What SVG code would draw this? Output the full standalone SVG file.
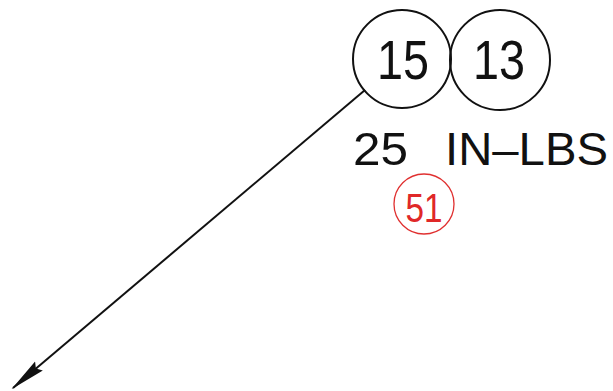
<svg xmlns="http://www.w3.org/2000/svg" width="613" height="391" viewBox="0 0 613 391">
<style>
.bal{fill:none;stroke:#111;stroke-width:2}
.t{font-family:"Liberation Sans",Arial,sans-serif;fill:#111}
</style>
<defs>
<marker id="ah" markerWidth="36" markerHeight="14" refX="34" refY="7" orient="auto" markerUnits="userSpaceOnUse">
<path d="M0,1 L36,7 L0,13 L4,7 Z" fill="#111"/>
</marker>
</defs>
<rect width="613" height="391" fill="#fff"/>
<g id="connectors">
<line x1="365" y1="90" x2="13" y2="388" stroke="#111" stroke-width="2" marker-end="url(#ah)"/>
</g>
<g id="balloon15">
<circle class="bal" cx="402" cy="59" r="49"/>
<text class="t" x="403" y="79" font-size="55" text-anchor="middle" textLength="52" lengthAdjust="spacingAndGlyphs">15</text>
</g>
<g id="balloon13">
<circle class="bal" cx="500" cy="60" r="50"/>
<text class="t" x="499" y="79" font-size="55" text-anchor="middle" textLength="52" lengthAdjust="spacingAndGlyphs">13</text>
</g>
<g id="torque">
<text class="t" x="353" y="165" font-size="47" textLength="55" lengthAdjust="spacingAndGlyphs">25</text>
<text class="t" x="445" y="165" font-size="47" textLength="163" lengthAdjust="spacingAndGlyphs">IN–LBS</text>
</g>
<g id="balloon51">
<circle cx="424" cy="204" r="30" fill="none" stroke="#e03030" stroke-width="1.3"/>
<text x="424" y="222" font-family="'Liberation Sans',Arial,sans-serif" font-size="40" fill="#e02828" text-anchor="middle" textLength="37" lengthAdjust="spacingAndGlyphs">51</text>
</g>
</svg>
